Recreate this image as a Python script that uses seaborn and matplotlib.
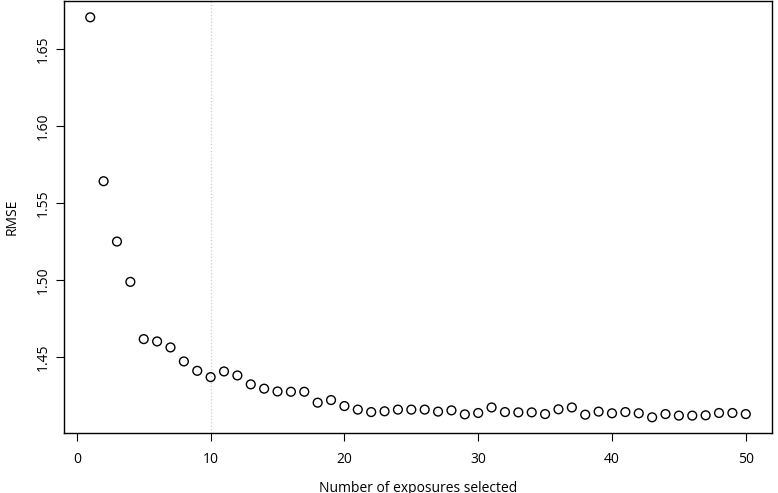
import matplotlib
matplotlib.use("Agg")
import matplotlib.pyplot as plt
import seaborn as sns
import pandas as pd

n_exposures = list(range(1, 51))
rmse = [1.6708, 1.5643, 1.5251, 1.4989, 1.4617, 1.4602, 1.4563, 1.4472, 1.4411, 1.4370,
        1.4407, 1.4381, 1.4323, 1.4295, 1.4277, 1.4275, 1.4275, 1.4204, 1.4221, 1.4182,
        1.4159, 1.4143, 1.4148, 1.4159, 1.4159, 1.4159, 1.4146, 1.4154, 1.4128, 1.4137,
        1.4173, 1.4143, 1.4141, 1.4141, 1.4130, 1.4161, 1.4173, 1.4126, 1.4146, 1.4135,
        1.4143, 1.4135, 1.4109, 1.4130, 1.4120, 1.4120, 1.4122, 1.4137, 1.4137, 1.4130]
x_ticks = [0, 10, 20, 30, 40, 50]
y_ticks = [1.45, 1.50, 1.55, 1.60, 1.65]
selected = 10

df = pd.DataFrame({"n": n_exposures, "rmse": rmse})
plt.rcParams["font.family"] = "Open Sans"
fig = plt.figure(figsize=(7.78, 4.93), dpi=100)
ax = fig.add_axes([64/778, 60/493, 708/778, 432/493])
ax.axvline(selected, color="#cccccc", linestyle=":", linewidth=0.9, zorder=0)
sns.scatterplot(data=df, x="n", y="rmse", ax=ax, marker="o", s=40,
                facecolor="none", edgecolor="black", linewidth=1.0)
ax.set_xlim(-0.96, 51.96)
ax.set_ylim(1.4007, 1.6814)
ax.set_xticks(x_ticks)
ax.set_yticks(y_ticks)
ax.set_yticklabels([f"{v:.2f}" for v in y_ticks], rotation=90, va="center")
ax.tick_params(labelsize=10, length=6)
ax.tick_params(axis="x", pad=8)
ax.set_xlabel("Number of exposures selected", fontsize=10, labelpad=10)
ax.set_ylabel("RMSE", fontsize=10, labelpad=12)
for s in ax.spines.values():
    s.set_linewidth(1.0)
fig.savefig("out.png", dpi=100)
